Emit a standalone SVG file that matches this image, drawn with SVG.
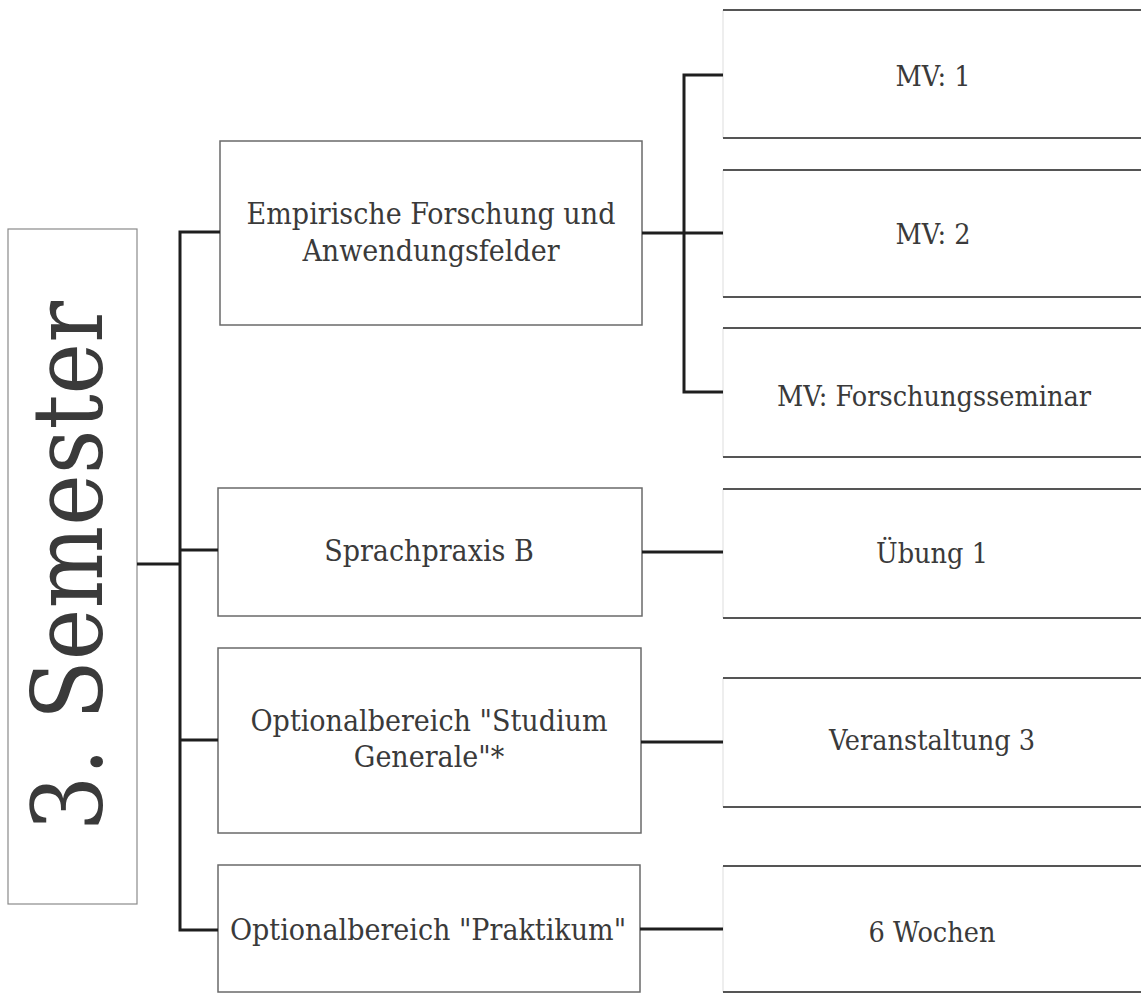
<svg xmlns="http://www.w3.org/2000/svg" width="1141" height="994" viewBox="0 0 1141 994">
<style>
.bg{fill:#ffffff}
.mid{fill:#ffffff;stroke:#6a6a6a;stroke-width:1.5}
.rbox{fill:#ffffff;stroke:none}
.redge{stroke:#555;stroke-width:2}
.ledge{stroke:#ddd;stroke-width:1}
.sem{fill:#ffffff;stroke:#8a8a8a;stroke-width:1.2}
.t{font-family:'DejaVu Serif Condensed','DejaVu Serif',serif;font-stretch:condensed;fill:#3a3a3a;text-anchor:middle}
.tm{font-size:30px}
.tr{font-size:28.5px}
.conn{fill:none;stroke:#1e1e1e;stroke-width:3}
</style>
<rect class="bg" x="0" y="0" width="1141" height="994"/>

<g id="semester">
<rect class="sem" x="8" y="229" width="129" height="675"/>
<text class="t" font-size="97" transform="translate(102,566) rotate(-90)">3. Semester</text>
</g>

<g id="empirische">
<rect class="mid" x="220" y="141" width="422" height="184"/>
<text class="t tm" x="431" y="224">Empirische Forschung und</text>
<text class="t tm" x="431" y="261">Anwendungsfelder</text>
</g>

<g id="sprachpraxis">
<rect class="mid" x="218" y="488" width="424" height="128"/>
<text class="t tm" x="429" y="561">Sprachpraxis B</text>
</g>

<g id="studium">
<rect class="mid" x="218" y="648" width="423" height="185"/>
<text class="t tm" x="429" y="731">Optionalbereich "Studium</text>
<text class="t tm" x="429" y="767">Generale"*</text>
</g>

<g id="praktikum">
<rect class="mid" x="218" y="865" width="422" height="127"/>
<text class="t tm" x="428" y="940">Optionalbereich "Praktikum"</text>
</g>

<g id="mv1">
<rect class="rbox" x="723" y="10" width="430" height="128"/>
<line class="ledge" x1="723" y1="10" x2="723" y2="138"/>
<line class="redge" x1="723" y1="10" x2="1141" y2="10"/>
<line class="redge" x1="723" y1="138" x2="1141" y2="138"/>
<text class="t tr" x="933" y="86">MV: 1</text>
</g>

<g id="mv2">
<rect class="rbox" x="723" y="170" width="430" height="127"/>
<line class="ledge" x1="723" y1="170" x2="723" y2="297"/>
<line class="redge" x1="723" y1="170" x2="1141" y2="170"/>
<line class="redge" x1="723" y1="297" x2="1141" y2="297"/>
<text class="t tr" x="933" y="244">MV: 2</text>
</g>

<g id="mvfs">
<rect class="rbox" x="723" y="328" width="430" height="129"/>
<line class="ledge" x1="723" y1="328" x2="723" y2="457"/>
<line class="redge" x1="723" y1="328" x2="1141" y2="328"/>
<line class="redge" x1="723" y1="457" x2="1141" y2="457"/>
<text class="t tr" x="934" y="406">MV: Forschungsseminar</text>
</g>

<g id="uebung">
<rect class="rbox" x="723" y="489" width="430" height="129"/>
<line class="ledge" x1="723" y1="489" x2="723" y2="618"/>
<line class="redge" x1="723" y1="489" x2="1141" y2="489"/>
<line class="redge" x1="723" y1="618" x2="1141" y2="618"/>
<text class="t tr" x="932" y="563">Übung 1</text>
</g>

<g id="veranstaltung">
<rect class="rbox" x="723" y="678" width="430" height="129"/>
<line class="ledge" x1="723" y1="678" x2="723" y2="807"/>
<line class="redge" x1="723" y1="678" x2="1141" y2="678"/>
<line class="redge" x1="723" y1="807" x2="1141" y2="807"/>
<text class="t tr" x="932" y="750">Veranstaltung 3</text>
</g>

<g id="wochen">
<rect class="rbox" x="723" y="866" width="430" height="126"/>
<line class="ledge" x1="723" y1="866" x2="723" y2="992"/>
<line class="redge" x1="723" y1="866" x2="1141" y2="866"/>
<line class="redge" x1="723" y1="992" x2="1141" y2="992"/>
<text class="t tr" x="932" y="942">6 Wochen</text>
</g>

<g id="connectors">
<path class="conn" d="M137 564 H180"/>
<path class="conn" d="M220 232 H180 V930 H218"/>
<path class="conn" d="M180 550 H218"/>
<path class="conn" d="M180 740 H218"/>
<path class="conn" d="M642 233 H723"/>
<path class="conn" d="M723 75 H684 V392 H723"/>
<path class="conn" d="M642 552 H723"/>
<path class="conn" d="M641 742 H723"/>
<path class="conn" d="M640 929 H723"/>
</g>
</svg>
